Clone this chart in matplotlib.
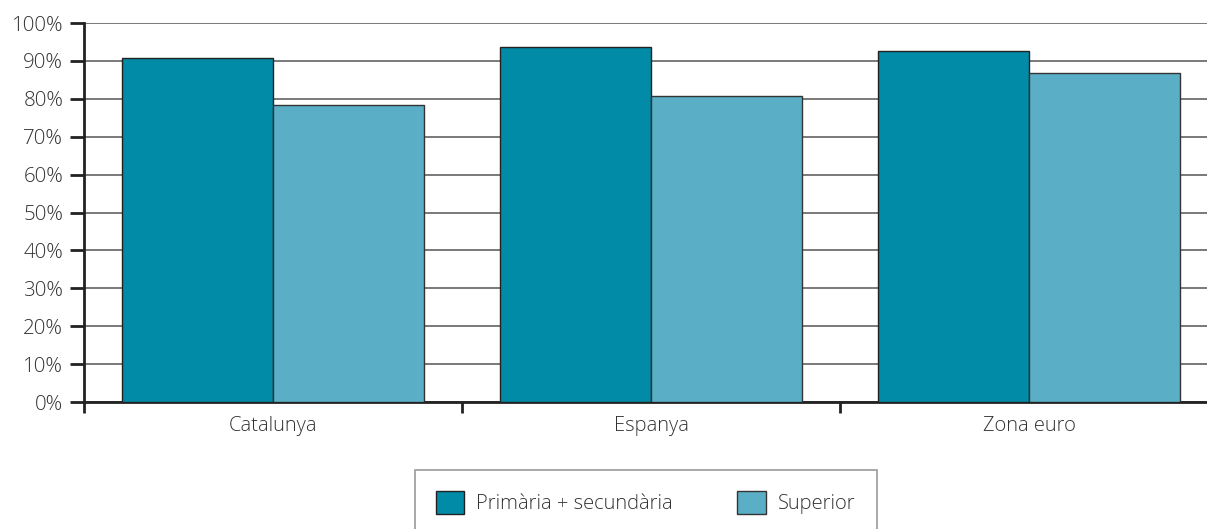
import numpy as np
import matplotlib.pyplot as plt

plt.rcParams['font.family'] = ['Open Sans', 'DejaVu Sans']
plt.rcParams['font.weight'] = 'light'

regions = ["Catalunya", "Espanya", "Zona euro"]
primaria_secundaria = [90.7, 93.7, 92.7]
superior = [78.4, 80.8, 86.8]
series_names = ["Primària + secundària", "Superior"]

dark = "#018ba6"
light = "#5aafc6"
text_col = "#333333"

fig = plt.figure(figsize=(12.07, 5.29), dpi=100)
# axes runs past the right edge, like the original
ax = fig.add_axes([84 / 1207, 1 - 402 / 529, 1134 / 1207, 379 / 529])

x = np.arange(len(regions))
w = 0.4
ax.bar(x - w / 2, primaria_secundaria, width=w, color=dark, edgecolor="#222222",
       linewidth=1.0, label=series_names[0], zorder=3)
ax.bar(x + w / 2, superior, width=w, color=light, edgecolor="#333333",
       linewidth=1.0, label=series_names[1], zorder=3)

ax.set_xlim(-0.5, len(regions) - 0.5)
ax.set_ylim(0, 100)
ax.set_yticks(np.arange(0, 101, 10))
ax.set_yticklabels([f"{v}%" for v in range(0, 101, 10)])
ax.yaxis.grid(True, color="#6e6e6e", linewidth=1.3, zorder=0)
ax.set_axisbelow(True)

ax.set_xticks(x)
ax.set_xticklabels(regions)
ax.set_xticks(np.arange(-0.5, len(regions), 1), minor=True)
ax.tick_params(axis="x", which="major", length=0, pad=10, labelsize=14.5, labelcolor=text_col)
ax.tick_params(axis="x", which="minor", length=8, width=2, color="#222222", direction="out")
ax.tick_params(axis="y", length=10, width=2, color="#222222", direction="out",
               labelsize=14.8, labelcolor=text_col, pad=5)

for s in ["top", "right"]:
    ax.spines[s].set_visible(False)
for s in ["left", "bottom"]:
    ax.spines[s].set_linewidth(2)
    ax.spines[s].set_color("#222222")

leg = fig.legend(loc="upper left", bbox_to_anchor=(415 / 1207, 1 - 470 / 529),
                 ncol=2, frameon=True, fancybox=False, fontsize=14.5,
                 handlelength=1.4, handleheight=1.4, handletextpad=0.6,
                 columnspacing=3.2, borderpad=1.05, borderaxespad=0)
leg.get_frame().set_edgecolor("#808080")
leg.get_frame().set_linewidth(1.2)
for t in leg.get_texts():
    t.set_color(text_col)

plt.savefig("out.png", dpi=100)
